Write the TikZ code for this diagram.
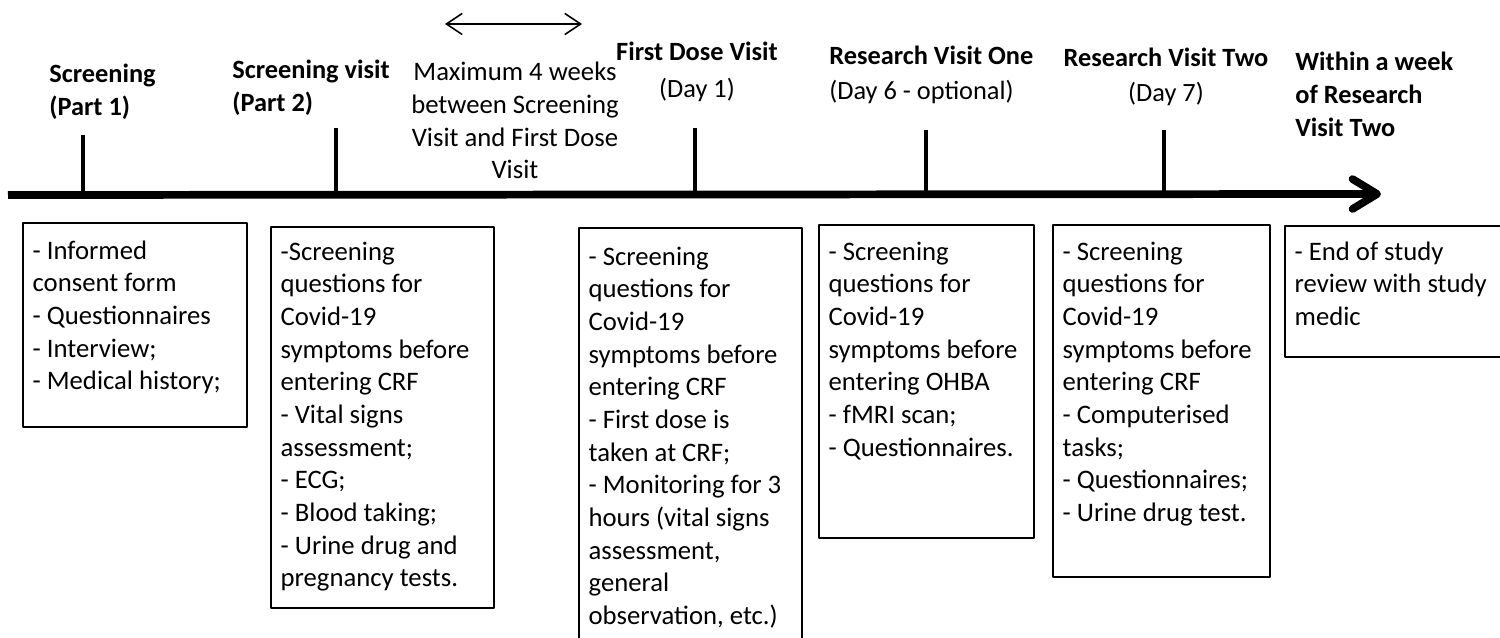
\documentclass[tikz,border=0pt]{standalone}
\usepackage{fontspec}
\setmainfont{Carlito}
\usetikzlibrary{arrows.meta, positioning, fit}

\tikzset{
  visit/.style={font=\fontsize{15}{18.6}\selectfont\bfseries, inner sep=0pt, align=left, anchor=north west},
  note/.style={font=\fontsize{15.2}{18.6}\selectfont, inner sep=0pt, align=center, anchor=north},
  box/.style={draw, line width=0.8pt, inner sep=0pt},
  boxtext/.style={font=\fontsize{15.2}{18.6}\selectfont, inner sep=0pt, align=left, anchor=north west},
  tick/.style={line width=2.3pt},
}

\begin{document}
\begin{tikzpicture}[x=0.02cm, y=-0.02cm, line join=round]
	\clip (0,0) rectangle (1500,638);
	% time line
	\coordinate (tstart) at (8,195);
	\coordinate (tend) at (1381,194);
	\draw [line width=4.4pt, -{Straight Barb[length=14pt, width=17pt, round]}] (tstart)--(tend);

	% visits above the line
	\node [visit] (v1) at (49,64) {Screening\\(Part 1)};
	\node [visit] (v2) at (232,60) {Screening visit\\(Part 2)};
	\node [visit, align=center, anchor=north] (v3) at (697,42) {First Dose Visit\\[2pt]\mdseries(Day 1)};
	\node [visit] (v4) at (829,46) {Research Visit One\\[1pt]\mdseries(Day 6 - optional)};
	\node [visit, align=center, anchor=north] (v5) at (1166,48) {Research Visit Two\\[1pt]\mdseries(Day 7)};
	\node [visit] (v6) at (1295,52) {Within a week\\of Research\\Visit Two};

	% ticks
	\coordinate (t1) at (83,135);
	\coordinate (t2) at (336,128);
	\coordinate (t3) at (695,128);
	\coordinate (t4) at (926,130);
	\coordinate (t5) at (1164,130);
	\foreach \t in {t1,t2,t3,t4,t5}
		\draw [tick] (\t)--(\t |- tstart);

	% gap between screening and first dose
	\coordinate (gapl) at (445,24);
	\coordinate (gapr) at (582,24);
	\draw [line width=0.9pt, {Straight Barb[length=9pt, width=12pt]}-{Straight Barb[length=9pt, width=12pt]}] (gapl)--(gapr);
	\node [note] (gap) at (515,62) {Maximum 4 weeks\\between Screening\\Visit and First Dose\\Visit};

	% boxes below the line
	\node [box, fit={(23,223) (247,427)}] (b1) {};
	\node [box, fit={(271,227) (494,608)}] (b2) {};
	\node [box, fit={(579,228) (802,660)}] (b3) {};
	\node [box, fit={(819,225) (1034,538)}] (b4) {};
	\node [box, fit={(1053,225) (1270,577)}] (b5) {};
	\node [box, fit={(1285,226) (1520,357)}] (b6) {};

	\node [boxtext, below right=0.36cm and 0.2cm of b1.north west] (l1) {- Informed\\consent form\\- Questionnaires\\- Interview;\\- Medical history;};
	\node [boxtext, below right=0.30cm and 0.2cm of b2.north west] (l2) {-Screening\\questions for\\Covid-19\\symptoms before\\entering CRF\\- Vital signs\\assessment;\\- ECG;\\- Blood taking;\\- Urine drug and\\pregnancy tests.};
	\node [boxtext, below right=0.38cm and 0.2cm of b3.north west] (l3) {- Screening\\questions for\\Covid-19\\symptoms before\\entering CRF\\- First dose is\\taken at CRF;\\- Monitoring for 3\\hours (vital signs\\assessment,\\general\\observation, etc.)};
	\node [boxtext, below right=0.34cm and 0.2cm of b4.north west] (l4) {- Screening\\questions for\\Covid-19\\symptoms before\\entering OHBA\\- fMRI scan;\\- Questionnaires.};
	\node [boxtext, below right=0.34cm and 0.2cm of b5.north west] (l5) {- Screening\\questions for\\Covid-19\\symptoms before\\entering CRF\\- Computerised\\tasks;\\- Questionnaires;\\- Urine drug test.};
	\node [boxtext, below right=0.32cm and 0.2cm of b6.north west] (l6) {- End of study\\review with study\\medic};
\end{tikzpicture}
\end{document}
